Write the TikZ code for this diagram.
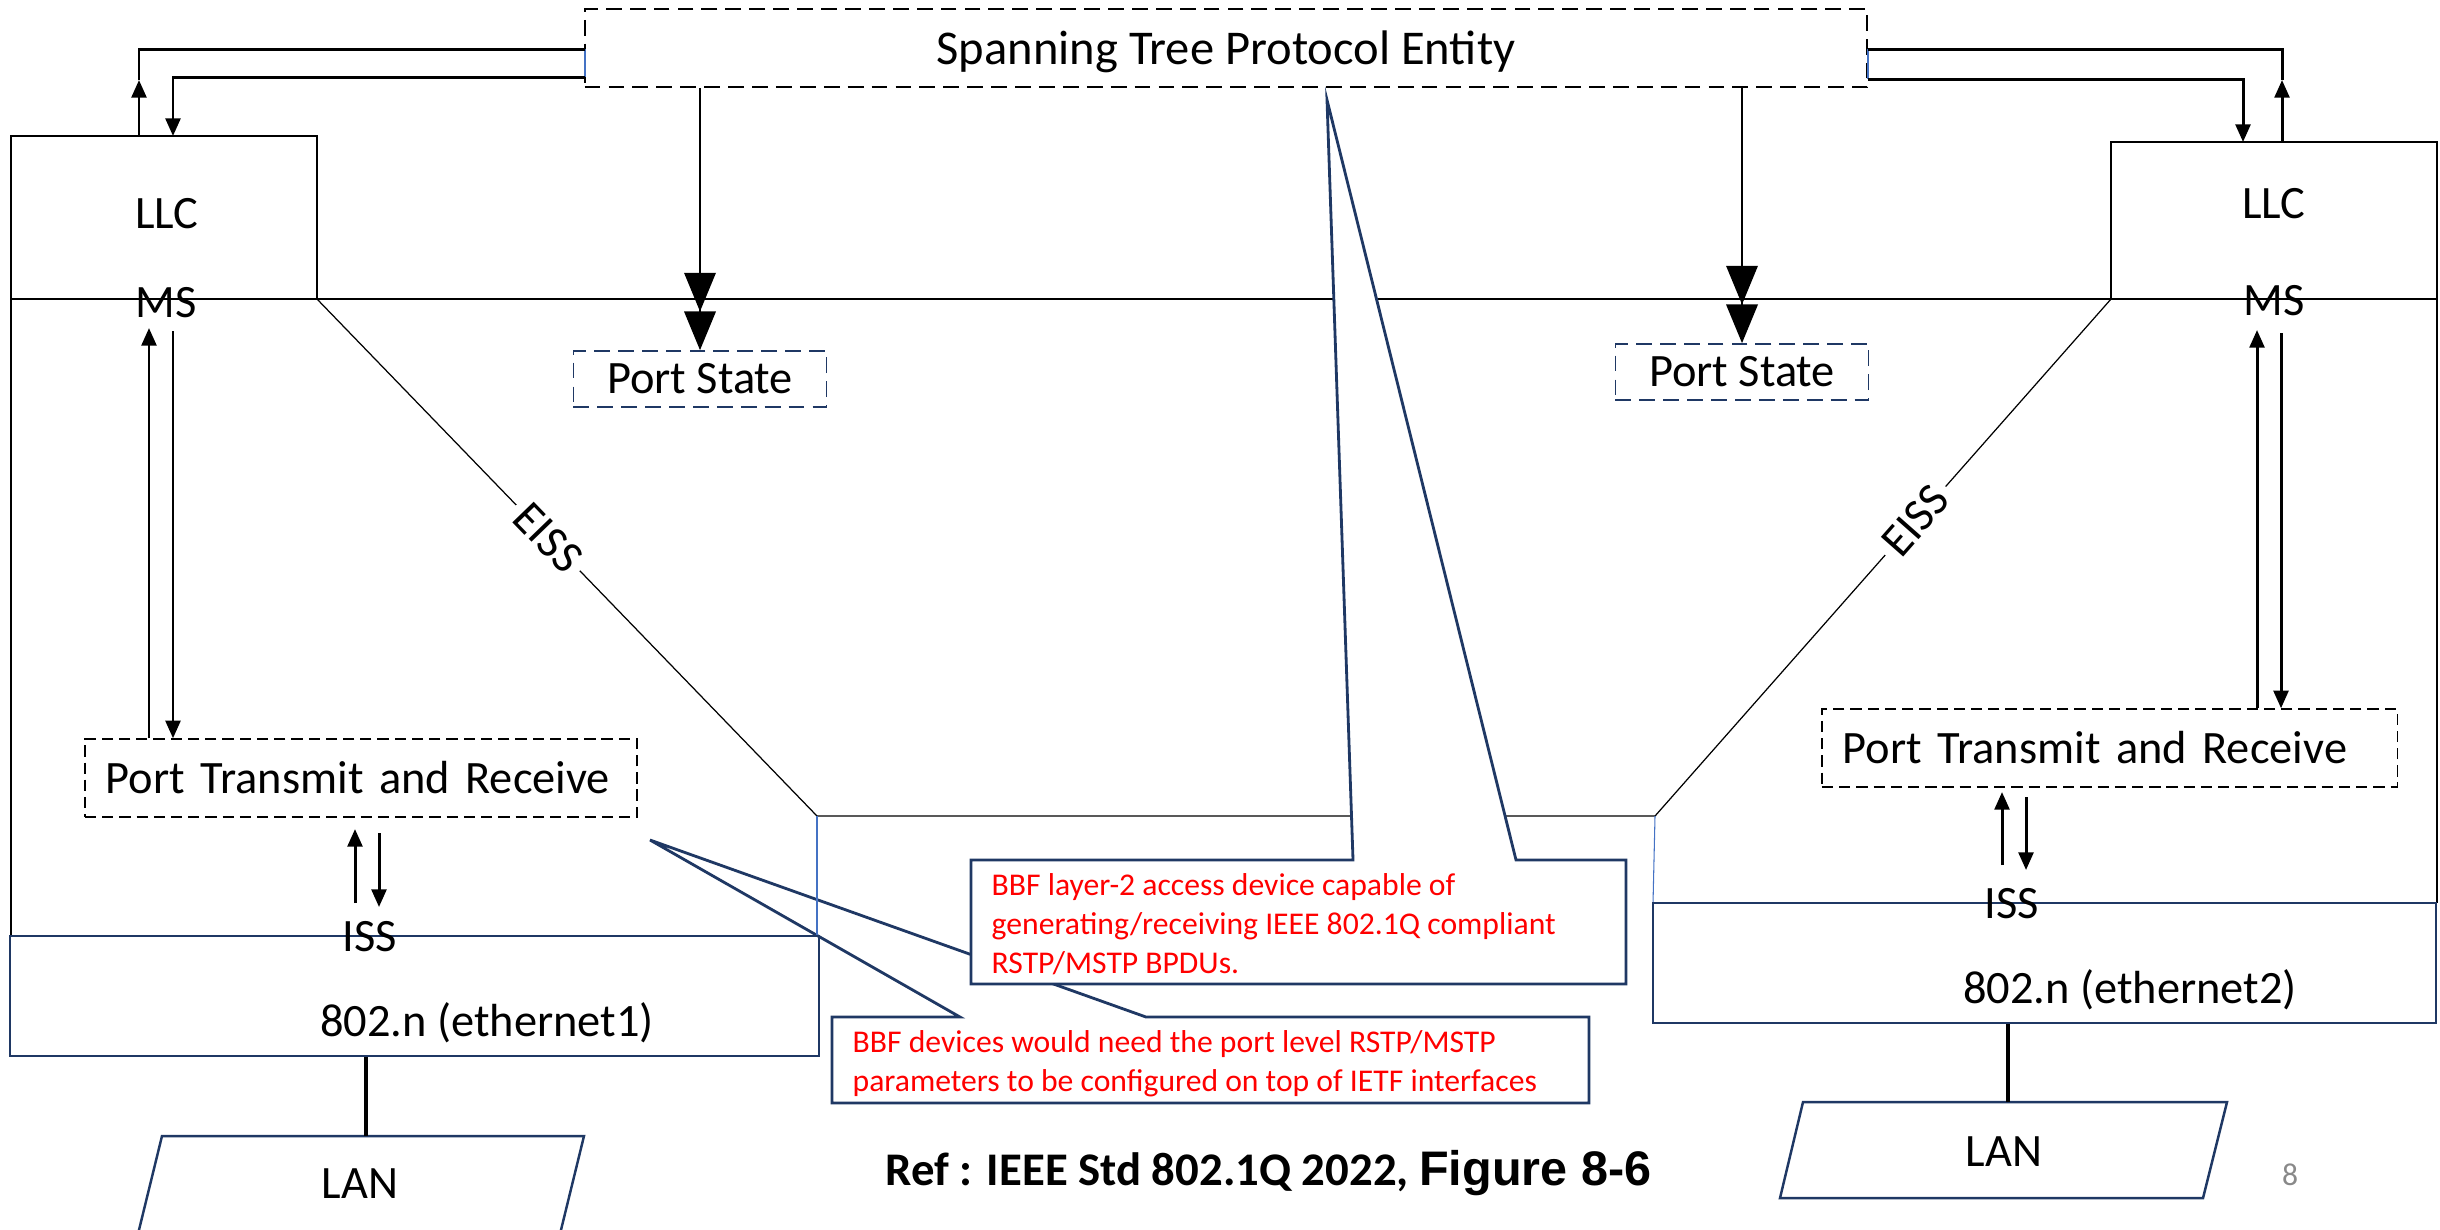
\documentclass[tikz,border=0pt]{standalone}
\usepackage{fontspec}
\setmainfont{Carlito}
\newfontfamily\arialfont{Liberation Sans}
\usetikzlibrary{positioning}
\usetikzlibrary{arrows.meta}
\usetikzlibrary{calc}
\definecolor{navy}{RGB}{31,56,100}
\definecolor{lineblue}{RGB}{68,114,196}
\definecolor{notered}{RGB}{255,0,0}
\definecolor{pagegray}{RGB}{137,137,137}

\tikzset{
  lbl/.style={inner sep=0pt,font=\fontsize{13.2}{16}\selectfont},
  frame/.style={line width=0.35pt},
  stpbox/.style={draw,line width=0.6pt,dash pattern=on 4.5pt off 2.3pt,minimum width=12.82cm,minimum height=0.78cm,inner sep=0pt,text depth=0pt,font=\fontsize{13.8}{17}\selectfont},
  statebox/.style={draw=navy,line width=0.5pt,dash pattern=on 4.5pt off 2.3pt,minimum width=2.53cm,minimum height=0.56cm,inner sep=0pt,font=\fontsize{13.2}{16}\selectfont},
  ptrbox/.style={draw,line width=0.4pt,dash pattern=on 3.2pt off 1.7pt,minimum height=0.78cm,inner xsep=0.21cm,align=left,font=\fontsize{13.2}{16}\selectfont},
  ethbox/.style={draw=navy,line width=0.7pt,inner sep=0pt},
  lan/.style={draw=navy,line width=0.7pt},
  bus/.style={line width=0.85pt},
  tip/.style={-{Triangle[length=5pt,width=4.2pt]}},
  sig/.style={line width=0.85pt,tip},
  statearrow/.style={line width=0.4pt,-{Triangle[length=11pt,width=9pt,sep=0pt]Triangle[length=11pt,width=9pt]}},
  callout/.style={draw=navy,line width=0.8pt,fill=white,line join=miter},
  note/.style={inner sep=0pt,text=notered,align=left,font=\fontsize{9}{11}\selectfont},
}

\begin{document}
\begin{tikzpicture}[x=0.01cm,y=-0.01cm]
  \useasboundingbox (0,0) rectangle (2440,1229);
  \clip (0,0) rectangle (2440,1229);

  % note on the port parameters (lies under the frames)
  \draw[callout] (832,1017) -- (960,1017) -- (650,840) coordinate (tipB) -- (1146,1017) -- (1589,1017) -- (1589,1103) -- (832,1103) -- cycle;
  \node[note,anchor=north west] (noteB) at (852,1030) {BBF devices would need the port level RSTP/MSTP\\parameters to be configured on top of IETF interfaces};

  % bridge port frames
  \draw[frame] (11,936) -- (11,136) -- (317,136) -- (317,299);
  \draw[frame] (11,299) -- (2437,299);
  \draw[frame] (2437,903) -- (2437,142) -- (2111,142) -- (2111,299);
  \draw[frame] (317,299) -- (817,816) coordinate (eissL) -- (1655,816) coordinate (eissR) -- (2111,299);
  \draw[lineblue,line width=0.3pt] (eissL) -- (817,936);
  \draw[lineblue,line width=0.3pt] (eissR) -- (1653,903);
  \path (317,299) -- (eissL) node[lbl,pos=0.462,sloped,fill=white,inner sep=2pt] (eissLtxt) {EISS};
  \path (eissR) -- (2111,299) node[lbl,pos=0.571,sloped,fill=white,inner sep=2pt] (eissRtxt) {EISS};

  % protocol entity and port state
  \node[stpbox] (stp) at (1226,48) {Spanning Tree Protocol Entity};
  \draw[lineblue,line width=0.6pt] (585,49) -- (585,77);
  \draw[lineblue,line width=0.6pt] (1868,49) -- (1868,79);
  \node[statebox] (stateL) at (700,379) {Port State};
  \node[statebox] (stateR) at (1742,372) {Port State};
  \draw[statearrow] (stp.south -| stateL.north) -- (stateL.north);
  \draw[statearrow] (stp.south -| stateR.north) -- (stateR.north);

  % LLC / MS labels
  \node[lbl,anchor=base] (llcL) at (167,228) {LLC};
  \node[lbl,anchor=base] (msL) at (166,317) {MS};
  \node[lbl,anchor=base] (llcR) at (2274,218) {LLC};
  \node[lbl,anchor=base] (msR) at (2274,315) {MS};

  % connectors entity <-> LLC
  \draw[bus] (585,49) -| (139,80) coordinate (upL);
  \draw[sig] (139,136) -- (upL);
  \draw[bus,tip] (585,77) -| (173,136);
  \draw[bus] (1868,49) -| (2282,80) coordinate (upR);
  \draw[sig] (2282,142) -- (upR);
  \draw[bus,tip] (1868,79) -| (2243,142);

  % port transmit and receive
  \node[ptrbox,text width=5.10cm] (ptrL) at (361,778) {Port Transmit and Receive};
  \node[ptrbox,text width=5.33cm] (ptrR) at (2109.5,748) {Port Transmit and Receive};
  \draw[sig] (ptrL.north -| 149,0) -- (149,328);
  \draw[sig] (173,331) -- (ptrL.north -| 173,0);
  \draw[sig] (ptrR.north -| 2257,0) -- (2257,330);
  \draw[sig] (2281,333) -- (ptrR.north -| 2281,0);
  \draw[sig] (355,903) -- (355,829);
  \draw[sig] (379,833) -- (379,907);
  \draw[sig] (2002,865) -- (2002,792);
  \draw[sig] (2026,797) -- (2026,870);

  % 802.n and LAN
  \node[ethbox,minimum width=8.09cm,minimum height=1.2cm] (ethL) at (414.5,996) {};
  \node[ethbox,minimum width=7.83cm,minimum height=1.2cm] (ethR) at (2044.5,963) {};
  \node[lbl,anchor=base] (issL) at (370,951) {ISS};
  \node[lbl,anchor=base] (issR) at (2012,918) {ISS};
  \node[lbl,anchor=base] (ethLtxt) at (487,1036) {802.n (ethernet1)};
  \node[lbl,anchor=base] (ethRtxt) at (2130,1003) {802.n (ethernet2)};
  \draw[lan] (162,1136) coordinate (lanLtop) -- (584,1136) -- (560,1234) -- (138,1234) -- cycle;
  \draw[lan] (1803,1102) coordinate (lanRtop) -- (2227,1102) -- (2203,1198) -- (1780,1198) -- cycle;
  \node[lbl,anchor=base] (lanL) at (360,1198) {LAN};
  \node[lbl,anchor=base] (lanR) at (2004,1166) {LAN};
  \draw[line width=0.9pt] (ethL.south -| 366,0) -- (366,1136);
  \draw[line width=0.9pt] (ethR.south -| 2008,0) -- (2008,1102);

  % note on the access device
  \draw[callout] (971,860) -- (1353,860) -- (1327,100) coordinate (tipA) -- (1516,860) -- (1626,860) -- (1626,984) -- (971,984) -- cycle;
  \node[note,anchor=north west] (noteA) at (991,873) {BBF layer-2 access device capable of\\generating/receiving IEEE 802.1Q compliant\\RSTP/MSTP BPDUs.};

  % reference
  \node[anchor=base west,inner sep=0pt,font=\bfseries\fontsize{13.3}{16}\selectfont] (refnote) at (885,1185) {Ref : IEEE Std 802.1Q 2022, {\arialfont\fontsize{13.8}{16}\selectfont Figure 8-6}};
  \node[anchor=base,inner sep=0pt,text=pagegray,font=\fontsize{9}{11}\selectfont] (pagenum) at (2290,1185) {8};
\end{tikzpicture}
\end{document}
